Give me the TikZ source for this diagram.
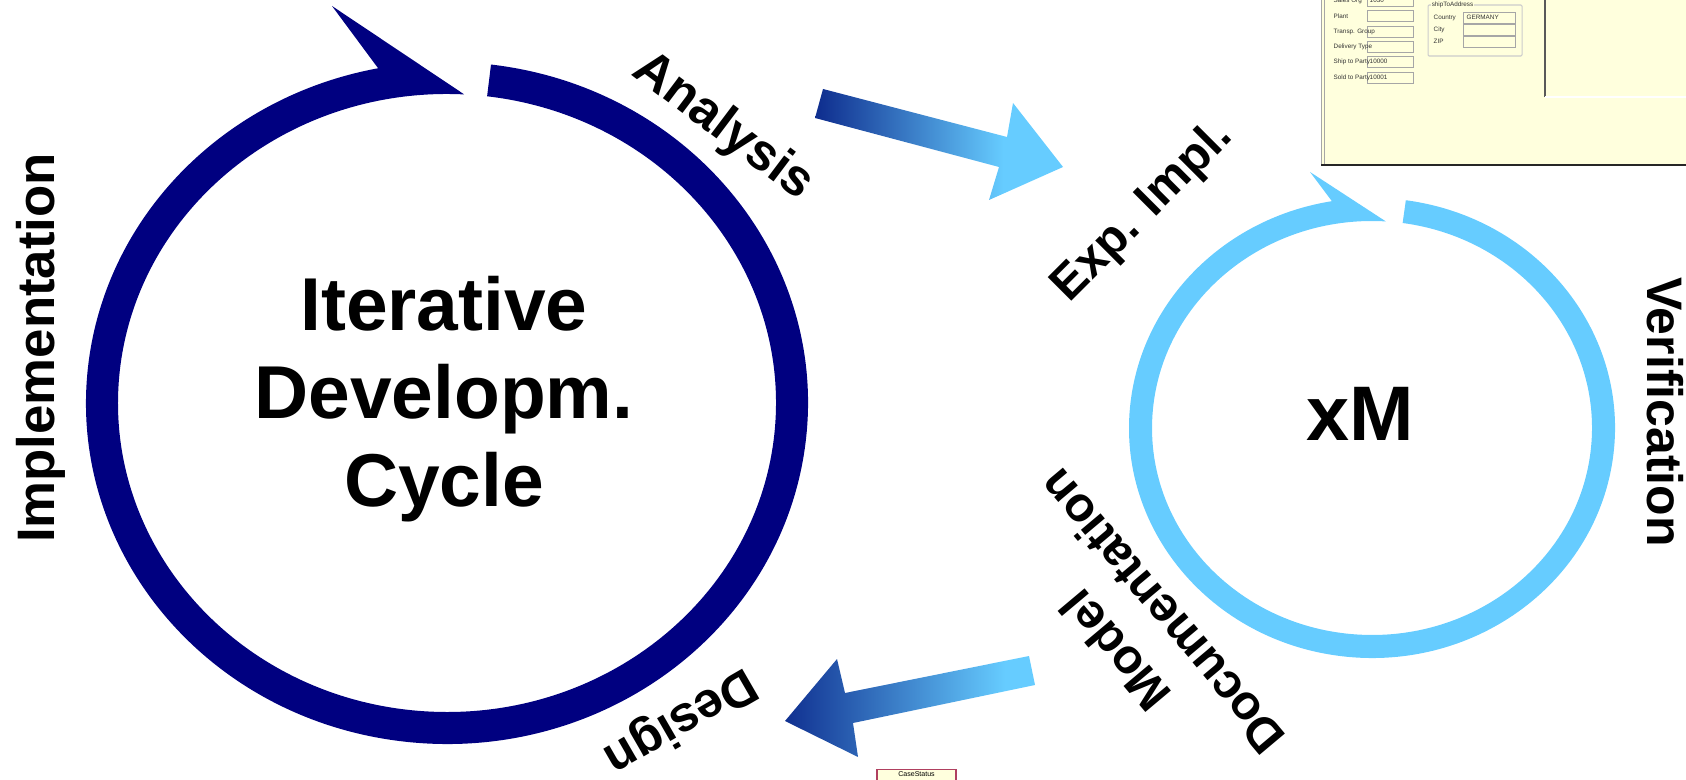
\documentclass[tikz,border=0pt]{standalone}
\usepackage{fontspec}
\setmainfont{Liberation Sans}
\usetikzlibrary{calc}

\definecolor{ringnavy}{RGB}{0,0,128}
\definecolor{skyblue}{RGB}{102,204,255}
\definecolor{arrowdark}{RGB}{16,48,144}
\definecolor{panelyellow}{RGB}{255,255,221}
\definecolor{casered}{RGB}{176,64,96}

\pgfdeclarehorizontalshading{toparrow}{100bp}{color(0bp)=(arrowdark); color(26bp)=(arrowdark);
	color(63bp)=(skyblue); color(100bp)=(skyblue)}
\pgfdeclarehorizontalshading{backarrow}{100bp}{color(0bp)=(arrowdark); color(25bp)=(arrowdark);
	color(69bp)=(skyblue); color(100bp)=(skyblue)}

\begin{document}
\begin{tikzpicture}[x=0.01cm, y=0.01cm,
	cycletext/.style={font=\fontsize{21.3}{25}\selectfont\bfseries, align=center, inner sep=0pt},
	stagetext/.style={font=\fontsize{14.2}{17.6}\selectfont\bfseries, align=center, inner sep=0pt},
	formtext/.style={font=\fontsize{1.8}{2}\selectfont, inner sep=0pt, text=black!80},
	formbox/.style={draw=gray!70, line width=0.25pt, fill=panelyellow, inner sep=0pt,
		minimum width=0.46cm, minimum height=0.11cm, anchor=west}]
	\useasboundingbox (0,0) rectangle (1686,779);
	% Iterative cycle ring
	\coordinate (itc) at (447,376);
	\fill[ringnavy] (itc) ++(83:361 and 341)
		arc[start angle=83, end angle=-259, x radius=361, y radius=341]
		-- (332,773) -- ($(itc)+(-273:329 and 309)$)
		arc[start angle=-273, end angle=83, x radius=329, y radius=309] -- cycle;
	% xM ring
	\coordinate (xmc) at (1372,351);
	\fill[skyblue] (xmc) ++(82:243 and 230)
		arc[start angle=82, end angle=-260.5, x radius=243, y radius=230]
		-- (1310,607) -- ($(xmc)+(-273.6:220 and 207)$)
		arc[start angle=-273.6, end angle=82, x radius=220, y radius=207] -- cycle;
	% Arrows
	\shade[shading=toparrow]
		(823,690) -- (1007,642) -- (1013,676) -- (1063,612)
		-- (989,579) -- (999,612) -- (815,661) -- cycle;
	\shade[shading=backarrow]
		(1029,123) -- (845,86) -- (837,120) -- (785,58)
		-- (858,22) -- (853,56) -- (1035,94) -- cycle;
	% Ring texts
	\node[cycletext] (cycle) at (444,380) {Iterative\\Developm.\\Cycle};
	\node[cycletext, font=\fontsize{22}{26}\selectfont\bfseries] (xm) at (1360,365) {xM};
	% Stage labels
	\node[stagetext, font=\fontsize{15}{18}\selectfont\bfseries, rotate=90] (impl) at (41,431) {Implementation};
	\node[stagetext, font=\fontsize{14.6}{18}\selectfont\bfseries, rotate=-37] (analysis) at (723,652) {Analysis};
	\node[stagetext, font=\fontsize{13.8}{17}\selectfont\bfseries, rotate=45] (expimpl) at (1143,567) {Exp. Impl.};
	\node[stagetext, rotate=-90] (verif) at (1665,367) {Verification};
	\node[stagetext, font=\fontsize{13.8}{17.2}\selectfont\bfseries, rotate=130] (modeldoc) at (1138,147) {Model\\Documentation};
	\node[stagetext, rotate=210] (design) at (680,59) {Design};
	% Screenshot panel
	\fill[panelyellow] (1322,614) rectangle (1686,779);
	\draw[gray!70, line width=0.3pt] (1321.5,614) -- (1321.5,779);
	\draw[gray!70, line width=0.3pt] (1324,614) -- (1324,779);
	\draw[gray!30!black, line width=0.6pt] (1321,614) -- (1686,614);
	\draw[gray!70!black, line width=0.4pt] (1545,682) -- (1545,779);
	\draw[white, line width=0.4pt] (1545,682) -- (1686,682);
	\foreach \i/\lbl/\row/\val in {1/Sales Org/778/1030, 2/Plant/763/, 3/Transp. Group/747/,
		4/Delivery Type/732/, 5/Ship to Party/717/10000, 6/Sold to Party/701/10001} {
		\node[formbox] (fbox\i) at (1367,\row) {};
		\node[formtext, anchor=west] (fval\i) at (1369,\row+1) {\val};
		\node[formtext, anchor=west] (flbl\i) at (1333,\row) {\lbl};
	}
	% shipToAddress group
	\draw[gray!40, line width=0.3pt, rounded corners=0.3pt] (1428,723) rectangle (1522,774);
	\node[formtext, anchor=west, fill=panelyellow, inner sep=0.3pt] (shipto) at (1430,774) {shipToAddress};
	\foreach \i/\lbl/\row/\val in {1/Country/761/GERMANY, 2/City/749.5/, 3/ZIP/737.5/} {
		\node[formbox, minimum width=0.52cm] (abox\i) at (1463,\row) {};
		\node[formtext, anchor=west] (aval\i) at (1466,\row+1) {\val};
		\node[formtext, anchor=west] (albl\i) at (1433,\row) {\lbl};
	}
	% CaseStatus box
	\node[draw=casered, fill=panelyellow, line width=0.4pt, anchor=north,
		minimum width=0.79cm, minimum height=0.2cm, inner sep=0pt,
		font=\fontsize{2}{2.4}\selectfont, text depth=0.12cm, text height=0.05cm] (casestatus) at (916.5,10) {CaseStatus};
\end{tikzpicture}
\end{document}
